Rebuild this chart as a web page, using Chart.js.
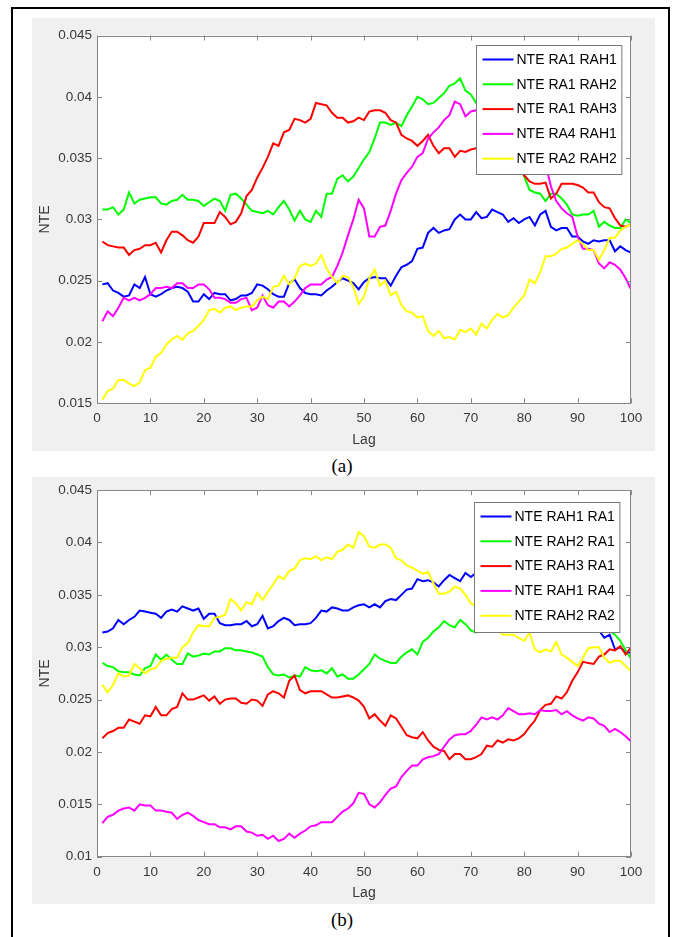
<!DOCTYPE html>
<html>
<head>
<meta charset="utf-8">
<title>NTE versus lag</title>
<script src="https://cdn.jsdelivr.net/npm/chart.js@4.4.1/dist/chart.umd.min.js"></script>
<style>
  html, body { margin: 0; padding: 0; background: #fff; overflow: hidden; }
  body { width: 673px; height: 937px; position: relative; }
  .frame { position: absolute; left: 11px; top: 7px; width: 659px; height: 960px;
           border: 2px solid #000; box-sizing: border-box; }
  canvas { position: absolute; }
  #chartA { left: 32px; top: 18px; }
  #chartB { left: 32px; top: 477px; }
  .caption { position: absolute; left: 242px; width: 200px; text-align: center;
             font-family: "Liberation Serif", "Times New Roman", serif;
             font-size: 19px; line-height: 22px; color: #000; }
</style>
</head>
<body>
<div class="frame"></div>
<canvas id="chartA" width="623" height="433"></canvas>
<div class="caption" style="top:455px">(a)</div>
<canvas id="chartB" width="623" height="427"></canvas>
<div class="caption" style="top:909px">(b)</div>

<script>
// Lag values on the horizontal axis (1 … 100)
const lags = Array.from({ length: 100 }, (_, i) => i + 1);

const xTicks = [0, 10, 20, 30, 40, 50, 60, 70, 80, 90, 100];
const yTicksA = [0.015, 0.02, 0.025, 0.03, 0.035, 0.04, 0.045];
const yTicksB = [0.01, 0.015, 0.02, 0.025, 0.03, 0.035, 0.04, 0.045];

const namesA = ['NTE RA1 RAH1', 'NTE RA1 RAH2', 'NTE RA1 RAH3', 'NTE RA4 RAH1', 'NTE RA2 RAH2'];
const namesB = ['NTE RAH1 RA1', 'NTE RAH2 RA1', 'NTE RAH3 RA1', 'NTE RAH1 RA4', 'NTE RAH2 RA2'];
const lineColors = ['#0000ff', '#00ff00', '#ff0000', '#ff00ff', '#ffff00'];

// ---- panel (a) ----
const ra1Rah1 = [
  0.0247, 0.0248, 0.0242, 0.0240, 0.0237, 0.0238, 0.0247, 0.0244, 0.0253, 0.0239,
  0.0237, 0.0239, 0.0242, 0.0244, 0.0245, 0.0244, 0.0241, 0.0233, 0.0233, 0.0239,
  0.0235, 0.0240, 0.0239, 0.0239, 0.0234, 0.0235, 0.0238, 0.0238, 0.0240, 0.0247,
  0.0246, 0.0243, 0.0239, 0.0237, 0.0237, 0.0248, 0.0251, 0.0244, 0.0240, 0.0239,
  0.0239, 0.0238, 0.0242, 0.0245, 0.0249, 0.0252, 0.0250, 0.0248, 0.0243, 0.0249,
  0.0252, 0.0253, 0.0252, 0.0252, 0.0246, 0.0254, 0.0261, 0.0263, 0.0266, 0.0276,
  0.0277, 0.0289, 0.0293, 0.0289, 0.0291, 0.0292, 0.0300, 0.0304, 0.0300, 0.0300,
  0.0306, 0.0301, 0.0302, 0.0308, 0.0306, 0.0304, 0.0298, 0.0301, 0.0297, 0.0300,
  0.0302, 0.0295, 0.0304, 0.0307, 0.0294, 0.0291, 0.0293, 0.0293, 0.0286, 0.0286,
  0.0282, 0.0280, 0.0283, 0.0282, 0.0283, 0.0283, 0.0274, 0.0278, 0.0275, 0.0273
];
const ra1Rah2 = [
  0.0308, 0.0308, 0.0310, 0.0304, 0.0308, 0.0322, 0.0313, 0.0316, 0.0317, 0.0318,
  0.0318, 0.0313, 0.0312, 0.0315, 0.0316, 0.0320, 0.0316, 0.0316, 0.0315, 0.0311,
  0.0314, 0.0317, 0.0315, 0.0307, 0.0320, 0.0321, 0.0317, 0.0312, 0.0307, 0.0306,
  0.0305, 0.0307, 0.0304, 0.0310, 0.0315, 0.0308, 0.0299, 0.0307, 0.0300, 0.0298,
  0.0307, 0.0302, 0.0321, 0.0321, 0.0333, 0.0336, 0.0331, 0.0335, 0.0342, 0.0349,
  0.0355, 0.0366, 0.0379, 0.0379, 0.0377, 0.0379, 0.0376, 0.0385, 0.0392, 0.0400,
  0.0398, 0.0394, 0.0395, 0.0399, 0.0403, 0.0409, 0.0411, 0.0415, 0.0405, 0.0402,
  0.0395, 0.0392, 0.0386, 0.0381, 0.0374, 0.0368, 0.0360, 0.0353, 0.0345, 0.0335,
  0.0324, 0.0322, 0.0321, 0.0315, 0.0321, 0.0321, 0.0317, 0.0312, 0.0304, 0.0303,
  0.0304, 0.0304, 0.0307, 0.0294, 0.0298, 0.0295, 0.0293, 0.0293, 0.0300, 0.0297
];
const ra1Rah3 = [
  0.0282, 0.0279, 0.0278, 0.0277, 0.0277, 0.0271, 0.0275, 0.0276, 0.0279, 0.0279,
  0.0281, 0.0273, 0.0283, 0.0290, 0.0290, 0.0287, 0.0283, 0.0281, 0.0286, 0.0297,
  0.0297, 0.0297, 0.0306, 0.0302, 0.0296, 0.0298, 0.0305, 0.0319, 0.0324, 0.0334,
  0.0342, 0.0351, 0.0362, 0.0360, 0.0371, 0.0373, 0.0382, 0.0381, 0.0379, 0.0382,
  0.0395, 0.0394, 0.0393, 0.0387, 0.0383, 0.0383, 0.0379, 0.0380, 0.0383, 0.0381,
  0.0388, 0.0389, 0.0389, 0.0387, 0.0381, 0.0379, 0.0369, 0.0366, 0.0364, 0.0360,
  0.0364, 0.0369, 0.0360, 0.0354, 0.0358, 0.0358, 0.0351, 0.0356, 0.0355, 0.0357,
  0.0358, 0.0359, 0.0362, 0.0357, 0.0355, 0.0352, 0.0350, 0.0346, 0.0341, 0.0336,
  0.0331, 0.0329, 0.0329, 0.0330, 0.0317, 0.0321, 0.0329, 0.0329, 0.0329, 0.0328,
  0.0326, 0.0322, 0.0322, 0.0314, 0.0310, 0.0309, 0.0301, 0.0295, 0.0294, 0.0296
];
const ra4Rah1 = [
  0.0217, 0.0225, 0.0221, 0.0228, 0.0236, 0.0234, 0.0236, 0.0234, 0.0236, 0.0239,
  0.0244, 0.0244, 0.0245, 0.0244, 0.0248, 0.0248, 0.0244, 0.0244, 0.0247, 0.0247,
  0.0243, 0.0236, 0.0236, 0.0235, 0.0232, 0.0232, 0.0235, 0.0236, 0.0226, 0.0228,
  0.0238, 0.0230, 0.0228, 0.0233, 0.0233, 0.0229, 0.0233, 0.0238, 0.0244, 0.0247,
  0.0247, 0.0247, 0.0251, 0.0253, 0.0262, 0.0273, 0.0287, 0.0300, 0.0316, 0.0309,
  0.0286, 0.0286, 0.0294, 0.0295, 0.0307, 0.0321, 0.0332, 0.0338, 0.0343, 0.0351,
  0.0354, 0.0366, 0.0371, 0.0375, 0.0381, 0.0385, 0.0396, 0.0394, 0.0384, 0.0388,
  0.0389, 0.0391, 0.0388, 0.0390, 0.0385, 0.0382, 0.0378, 0.0374, 0.0370, 0.0366,
  0.0362, 0.0358, 0.0352, 0.0345, 0.0327, 0.0315, 0.0309, 0.0305, 0.0302, 0.0286,
  0.0276, 0.0276, 0.0275, 0.0264, 0.0260, 0.0265, 0.0263, 0.0259, 0.0252, 0.0243
];
const ra2Rah2 = [
  0.0153, 0.0160, 0.0162, 0.0169, 0.0169, 0.0166, 0.0164, 0.0167, 0.0177, 0.0179,
  0.0188, 0.0191, 0.0198, 0.0202, 0.0205, 0.0202, 0.0207, 0.0209, 0.0213, 0.0218,
  0.0226, 0.0227, 0.0224, 0.0228, 0.0229, 0.0226, 0.0228, 0.0229, 0.0229, 0.0234,
  0.0237, 0.0235, 0.0245, 0.0246, 0.0254, 0.0247, 0.0252, 0.0262, 0.0264, 0.0262,
  0.0264, 0.0271, 0.0260, 0.0253, 0.0248, 0.0254, 0.0253, 0.0245, 0.0231, 0.0237,
  0.0252, 0.0259, 0.0246, 0.0250, 0.0238, 0.0241, 0.0230, 0.0225, 0.0224, 0.0220,
  0.0221, 0.0209, 0.0205, 0.0209, 0.0203, 0.0204, 0.0202, 0.0210, 0.0208, 0.0211,
  0.0206, 0.0215, 0.0211, 0.0218, 0.0223, 0.0220, 0.0222, 0.0228, 0.0233, 0.0238,
  0.0251, 0.0248, 0.0257, 0.0270, 0.0270, 0.0272, 0.0276, 0.0277, 0.0280, 0.0283,
  0.0280, 0.0275, 0.0275, 0.0267, 0.0275, 0.0285, 0.0285, 0.0291, 0.0294, 0.0296
];

// ---- panel (b) ----
const rah1Ra1 = [
  0.0314, 0.0315, 0.0318, 0.0326, 0.0322, 0.0326, 0.0329, 0.0335, 0.0334, 0.0333,
  0.0332, 0.0328, 0.0334, 0.0336, 0.0334, 0.0339, 0.0337, 0.0335, 0.0337, 0.0327,
  0.0332, 0.0332, 0.0323, 0.0321, 0.0321, 0.0322, 0.0322, 0.0325, 0.0320, 0.0322,
  0.0330, 0.0318, 0.0320, 0.0325, 0.0328, 0.0326, 0.0321, 0.0322, 0.0322, 0.0323,
  0.0328, 0.0335, 0.0334, 0.0338, 0.0337, 0.0335, 0.0335, 0.0338, 0.0340, 0.0341,
  0.0338, 0.0341, 0.0338, 0.0344, 0.0346, 0.0345, 0.0350, 0.0355, 0.0356, 0.0365,
  0.0363, 0.0364, 0.0362, 0.0358, 0.0364, 0.0369, 0.0366, 0.0363, 0.0371, 0.0367,
  0.0371, 0.0373, 0.0369, 0.0372, 0.0367, 0.0365, 0.0366, 0.0360, 0.0358, 0.0359,
  0.0353, 0.0352, 0.0348, 0.0347, 0.0342, 0.0343, 0.0338, 0.0335, 0.0334, 0.0329,
  0.0328, 0.0322, 0.0320, 0.0316, 0.0309, 0.0312, 0.0298, 0.0300, 0.0295, 0.0295
];
const rah2Ra1 = [
  0.0285, 0.0282, 0.0281, 0.0277, 0.0276, 0.0276, 0.0274, 0.0273, 0.0280, 0.0282,
  0.0293, 0.0288, 0.0293, 0.0288, 0.0284, 0.0284, 0.0294, 0.0291, 0.0292, 0.0294,
  0.0293, 0.0296, 0.0296, 0.0299, 0.0299, 0.0297, 0.0297, 0.0296, 0.0295, 0.0293,
  0.0291, 0.0281, 0.0274, 0.0273, 0.0274, 0.0271, 0.0273, 0.0272, 0.0281, 0.0278,
  0.0277, 0.0278, 0.0275, 0.0280, 0.0272, 0.0274, 0.0270, 0.0270, 0.0274, 0.0279,
  0.0284, 0.0293, 0.0289, 0.0287, 0.0285, 0.0285, 0.0291, 0.0295, 0.0298, 0.0293,
  0.0305, 0.0309, 0.0315, 0.0319, 0.0325, 0.0321, 0.0319, 0.0326, 0.0322, 0.0316,
  0.0314, 0.0318, 0.0320, 0.0323, 0.0321, 0.0325, 0.0327, 0.0324, 0.0328, 0.0330,
  0.0327, 0.0331, 0.0333, 0.0330, 0.0332, 0.0335, 0.0333, 0.0334, 0.0331, 0.0333,
  0.0330, 0.0328, 0.0325, 0.0322, 0.0318, 0.0316, 0.0312, 0.0306, 0.0297, 0.0289
];
const rah3Ra1 = [
  0.0213, 0.0218, 0.0220, 0.0223, 0.0223, 0.0231, 0.0229, 0.0227, 0.0235, 0.0234,
  0.0243, 0.0235, 0.0235, 0.0241, 0.0243, 0.0256, 0.0250, 0.0250, 0.0252, 0.0254,
  0.0249, 0.0253, 0.0246, 0.0250, 0.0251, 0.0251, 0.0247, 0.0246, 0.0250, 0.0249,
  0.0244, 0.0255, 0.0258, 0.0256, 0.0252, 0.0268, 0.0273, 0.0259, 0.0256, 0.0258,
  0.0258, 0.0258, 0.0255, 0.0252, 0.0252, 0.0253, 0.0254, 0.0252, 0.0249, 0.0243,
  0.0232, 0.0236, 0.0230, 0.0225, 0.0235, 0.0232, 0.0224, 0.0216, 0.0214, 0.0213,
  0.0219, 0.0211, 0.0205, 0.0202, 0.0201, 0.0193, 0.0198, 0.0198, 0.0193, 0.0193,
  0.0195, 0.0198, 0.0206, 0.0205, 0.0211, 0.0209, 0.0212, 0.0211, 0.0213, 0.0217,
  0.0224, 0.0230, 0.0240, 0.0245, 0.0246, 0.0253, 0.0251, 0.0257, 0.0268, 0.0276,
  0.0286, 0.0285, 0.0284, 0.0291, 0.0293, 0.0298, 0.0297, 0.0301, 0.0293, 0.0300
];
const rah1Ra4 = [
  0.0132, 0.0138, 0.0140, 0.0144, 0.0146, 0.0147, 0.0144, 0.0150, 0.0149, 0.0149,
  0.0144, 0.0144, 0.0143, 0.0142, 0.0136, 0.0140, 0.0142, 0.0139, 0.0135, 0.0133,
  0.0131, 0.0131, 0.0128, 0.0128, 0.0126, 0.0129, 0.0129, 0.0124, 0.0123, 0.0120,
  0.0121, 0.0117, 0.0120, 0.0115, 0.0117, 0.0122, 0.0118, 0.0122, 0.0125, 0.0129,
  0.0130, 0.0133, 0.0133, 0.0133, 0.0138, 0.0143, 0.0146, 0.0151, 0.0161, 0.0160,
  0.0150, 0.0147, 0.0152, 0.0159, 0.0165, 0.0167, 0.0176, 0.0182, 0.0187, 0.0187,
  0.0193, 0.0195, 0.0196, 0.0198, 0.0205, 0.0212, 0.0216, 0.0217, 0.0217, 0.0220,
  0.0226, 0.0233, 0.0231, 0.0233, 0.0231, 0.0235, 0.0242, 0.0239, 0.0236, 0.0236,
  0.0237, 0.0236, 0.0240, 0.0239, 0.0239, 0.0240, 0.0236, 0.0239, 0.0235, 0.0232,
  0.0230, 0.0233, 0.0232, 0.0227, 0.0225, 0.0219, 0.0222, 0.0219, 0.0215, 0.0210
];
const rah2Ra2 = [
  0.0264, 0.0257, 0.0264, 0.0275, 0.0272, 0.0273, 0.0284, 0.0280, 0.0275, 0.0279,
  0.0280, 0.0287, 0.0289, 0.0290, 0.0290, 0.0300, 0.0304, 0.0314, 0.0321, 0.0320,
  0.0320, 0.0328, 0.0329, 0.0331, 0.0346, 0.0342, 0.0335, 0.0343, 0.0341, 0.0352,
  0.0345, 0.0353, 0.0360, 0.0368, 0.0365, 0.0373, 0.0375, 0.0383, 0.0385, 0.0384,
  0.0387, 0.0383, 0.0386, 0.0384, 0.0391, 0.0393, 0.0398, 0.0395, 0.0410, 0.0406,
  0.0396, 0.0395, 0.0398, 0.0398, 0.0395, 0.0385, 0.0383, 0.0378, 0.0376, 0.0373,
  0.0370, 0.0372, 0.0361, 0.0351, 0.0351, 0.0353, 0.0358, 0.0356, 0.0350, 0.0342,
  0.0339, 0.0335, 0.0330, 0.0324, 0.0318, 0.0312, 0.0312, 0.0312, 0.0309, 0.0306,
  0.0314, 0.0298, 0.0295, 0.0298, 0.0296, 0.0305, 0.0293, 0.0290, 0.0286, 0.0282,
  0.0290, 0.0299, 0.0300, 0.0300, 0.0290, 0.0285, 0.0287, 0.0287, 0.0282, 0.0277
];

// ---- styling ----
const FONT_FAMILY = '"Liberation Sans", Arial, Helvetica, sans-serif';
Chart.defaults.font.family = FONT_FAMILY;
const textColor = '#383838';
const axisColor = '#878787';
const legendEdge = '#7a7a7a';

// Figure background, white axes box, inward ticks and the boxed legend
const matlabAxes = {
  id: 'matlabAxes',
  beforeDraw(chart) {
    const { ctx, chartArea: a, width, height } = chart;
    ctx.save();
    ctx.fillStyle = '#f0f0f0';
    ctx.fillRect(0, 0, width, height);
    ctx.fillStyle = '#ffffff';
    ctx.fillRect(a.left, a.top, a.width, a.height);
    ctx.restore();
  },
  afterDatasetsDraw(chart, args, opts) {
    const { ctx, chartArea: a, scales: { x, y } } = chart;
    const L = 5;
    ctx.save();
    ctx.strokeStyle = axisColor;
    ctx.lineWidth = 1;
    ctx.beginPath();
    x.ticks.forEach(t => {
      const px = Math.round(x.getPixelForValue(t.value)) + 0.5;
      ctx.moveTo(px, a.bottom); ctx.lineTo(px, a.bottom - L);
      ctx.moveTo(px, a.top); ctx.lineTo(px, a.top + L);
    });
    y.ticks.forEach(t => {
      const py = Math.round(y.getPixelForValue(t.value)) + 0.5;
      ctx.moveTo(a.left, py); ctx.lineTo(a.left + L, py);
      ctx.moveTo(a.right, py); ctx.lineTo(a.right - L, py);
    });
    ctx.stroke();
    ctx.strokeRect(Math.round(a.left) + 0.5, Math.round(a.top) + 0.5,
                   Math.round(a.width) - 1, Math.round(a.height) - 1);

    // legend box
    const ds = chart.data.datasets;
    ctx.font = '14px ' + FONT_FAMILY;
    const textW = Math.max(...ds.map(d => ctx.measureText(d.label).width));
    const w = 40 + textW + 5;
    const h = opts.legendHeight;
    const left = Math.round(opts.legendRight - w) + 0.5;
    const top = Math.round(opts.legendTop) + 0.5;
    ctx.fillStyle = '#ffffff';
    ctx.fillRect(left, top, w, h);
    ctx.strokeStyle = legendEdge;
    ctx.strokeRect(left, top, w, h);
    ds.forEach((d, i) => {
      const ry = top + 14 + i * 24.8;
      ctx.strokeStyle = d.borderColor;
      ctx.lineWidth = 2;
      ctx.beginPath();
      ctx.moveTo(left + 6, ry);
      ctx.lineTo(left + 37, ry);
      ctx.stroke();
      ctx.fillStyle = '#000';
      ctx.textBaseline = 'middle';
      ctx.textAlign = 'left';
      ctx.fillText(d.label, left + 40, ry + 0.5);
    });
    ctx.restore();
  }
};

function buildChart(canvasId, names, series, yMin, yMax, yTicks, frame) {
  const datasets = series.map((vals, i) => ({
    label: names[i],
    data: vals.map((v, k) => ({ x: lags[k], y: v })),
    borderColor: lineColors[i],
    backgroundColor: lineColors[i],
    borderWidth: 2,
    pointRadius: 0,
    tension: 0,
    fill: false,
    order: series.length - 1 - i
  }));
  const tickFont = { size: 13.5 };
  const titleFont = { size: 14 };
  return new Chart(document.getElementById(canvasId), {
    type: 'line',
    data: { datasets },
    options: {
      responsive: false,
      animation: false,
      devicePixelRatio: 1,
      layout: { padding: { top: frame.padTop, right: 24, bottom: 0, left: 0 } },
      plugins: {
        legend: { display: false },
        tooltip: { enabled: false },
        matlabAxes: { legendRight: frame.legendRight, legendTop: frame.legendTop, legendHeight: frame.legendHeight }
      },
      scales: {
        x: {
          type: 'linear', min: 0, max: 100,
          afterBuildTicks: s => { s.ticks = xTicks.map(v => ({ value: v })); },
          afterFit: s => { s.height = frame.xAxisHeight; },
          grid: { display: false, drawTicks: false },
          border: { display: false },
          ticks: { padding: 7.3, color: textColor, font: tickFont, maxRotation: 0, autoSkip: false,
                   callback: v => String(v) },
          title: { display: true, text: 'Lag', color: textColor, font: titleFont,
                   padding: { top: 0, bottom: 2.5 } }
        },
        y: {
          type: 'linear', min: yMin, max: yMax,
          afterBuildTicks: s => { s.ticks = yTicks.map(v => ({ value: v })); },
          afterFit: s => { s.width = 65; },
          grid: { display: false, drawTicks: false },
          border: { display: false },
          ticks: { padding: 5, color: textColor, font: tickFont, autoSkip: false,
                   callback: v => String(+v.toFixed(3)) },
          title: { display: true, text: 'NTE', color: textColor, font: titleFont,
                   padding: { top: 4.6, bottom: 0 } }
        }
      }
    },
    plugins: [matlabAxes]
  });
}

buildChart('chartA', namesA, [ra1Rah1, ra1Rah2, ra1Rah3, ra4Rah1, ra2Rah2],
  0.015, 0.045, yTicksA,
  { padTop: 17.5, xAxisHeight: 47.7, legendRight: 589, legendTop: 27, legendHeight: 129 });

buildChart('chartB', namesB, [rah1Ra1, rah2Ra1, rah3Ra1, rah1Ra4, rah2Ra2],
  0.01, 0.045, yTicksB,
  { padTop: 11, xAxisHeight: 47.3, legendRight: 587, legendTop: 24.7, legendHeight: 130 });
</script>
</body>
</html>
